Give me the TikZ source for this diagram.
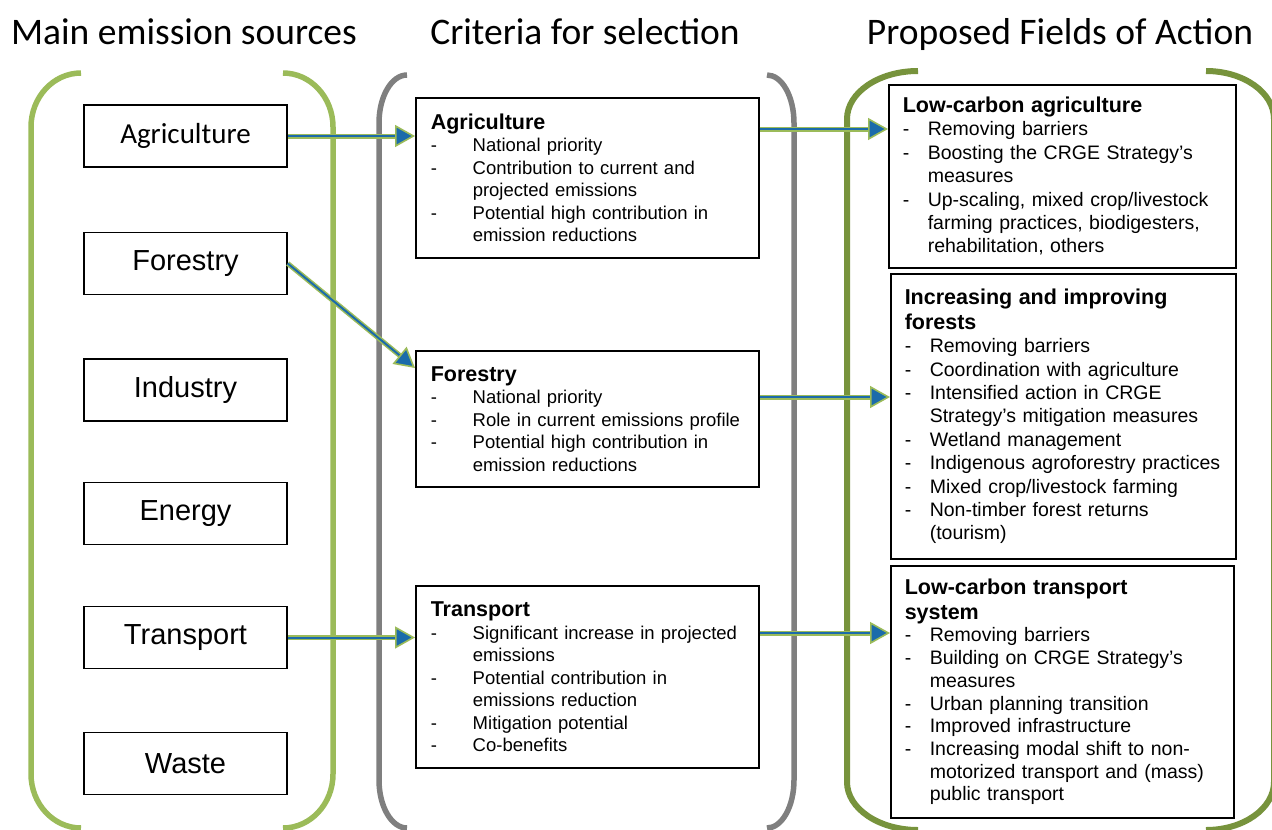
\documentclass[tikz,border=0pt]{standalone}
\usepackage{fontspec}
\setmainfont{Liberation Sans}
\newfontfamily\calfont{Carlito}
\usetikzlibrary{arrows.meta,calc}
\definecolor{srcgreen}{HTML}{9BBB59}
\definecolor{critgray}{HTML}{7F7F7F}
\definecolor{fieldgreen}{HTML}{77933C}
\definecolor{arrowblue}{HTML}{1B6BAA}
\newlength\dashind
\newcommand\ditem[1]{\hangindent=\dashind\hangafter=1\noindent\makebox[\dashind][l]{-}{\let\\\newline #1}\par}
\newcommand\dhead[1]{\noindent{\fontsize{21.5pt}{25pt}\selectfont\bfseries #1\par}}
\tikzset{
 title/.style={anchor=base,font=\calfont\fontsize{37.5pt}{42pt}\selectfont},
 source/.style={draw,line width=1.5pt,minimum width=203pt,minimum height=62pt,inner sep=0pt,font=\fontsize{29pt}{34pt}\selectfont},
 crit/.style={draw,line width=1.5pt,anchor=north west,inner xsep=15pt,inner ysep=0pt,text width=313pt,minimum width=343pt,align=left,font=\fontsize{18.5pt}{22.5pt}\selectfont\setlength\dashind{42pt}},
 field/.style={draw,line width=1.5pt,anchor=north west,inner xsep=14pt,inner ysep=0pt,align=left,font=\fontsize{19.5pt}{23.4pt}\selectfont\setlength\dashind{25pt}},
 bracket/.style={line width=5.5pt},
 link/.style={arrowblue,line width=2pt,-{Triangle[length=20pt,width=22pt,fill=arrowblue,color=srcgreen,line width=1.6pt]},preaction={draw=srcgreen,line width=5pt,-,shorten >=18pt}}
}

\begin{document}
\begin{tikzpicture}[x=1pt,y=-1pt]
\useasboundingbox (0,0) rectangle (1272,830);
% column brackets
\draw[bracket,srcgreen] (81,73) arc[start angle=270,end angle=180,x radius=50,y radius=54] -- (31,774) arc[start angle=180,end angle=90,x radius=50,y radius=54];
\draw[bracket,srcgreen] (283,73) arc[start angle=270,end angle=360,x radius=50,y radius=54] -- (333,774) arc[start angle=0,end angle=90,x radius=50,y radius=54];
\draw[bracket,critgray] (407,75) arc[start angle=270,end angle=180,x radius=28,y radius=48] -- (379,780) arc[start angle=180,end angle=90,x radius=28,y radius=48];
\draw[bracket,critgray] (767,75) arc[start angle=270,end angle=360,x radius=27,y radius=48] -- (794,780) arc[start angle=0,end angle=90,x radius=27,y radius=48];
\draw[bracket,fieldgreen,line width=6pt] (918,71) arc[start angle=270,end angle=180,x radius=71,y radius=48] -- (847,782) arc[start angle=180,end angle=90,x radius=71,y radius=48];
\draw[bracket,fieldgreen,line width=6pt] (1206,71) arc[start angle=270,end angle=360,x radius=68,y radius=48] -- (1274,782) arc[start angle=0,end angle=90,x radius=68,y radius=48];

% titles
\node[title] (tSrc) at (184,44) {Main emission sources};
\node[title] (tCrit) at (585,44) {Criteria for selection};
\node[title] (tField) at (1060,44) {Proposed Fields of Action};

% emission sources
\node[source,font=\calfont\fontsize{29pt}{34pt}\selectfont] (sAg) at (185.5,136) {Agriculture};
\node[source] (sFo) at (185.5,263.5) {Forestry};
\node[source] (sIn) at (185.5,390) {Industry};
\node[source] (sEn) at (185.5,513.5) {Energy};
\node[source] (sTr) at (185.5,637.5) {Transport};
\node[source] (sWa) at (185.5,763.5) {Waste};

% criteria
\node[crit,minimum height=160pt] (cAg) at (415,97) {\dhead{Agriculture}
\ditem{National priority}
\ditem{Contribution to current and\\projected emissions}
\ditem{Potential high contribution in\\emission reductions}};
\node[crit,minimum height=136pt] (cFo) at (415,350) {\dhead{Forestry}
\ditem{National priority}
\ditem{Role in current emissions profile}
\ditem{Potential high contribution in\\emission reductions}};
\node[crit,minimum height=182pt] (cTr) at (415,585) {\dhead{Transport}
\ditem{Significant increase in projected\\emissions}
\ditem{Potential contribution in\\emissions reduction}
\ditem{Mitigation potential}
\ditem{Co-benefits}};

% fields of action
\node[field,text width=319pt,minimum height=183pt] (fAg) at (888,84) {\dhead{Low-carbon agriculture}
\ditem{Removing barriers}
\ditem{Boosting the CRGE Strategy's\\measures}
\ditem{Up-scaling, mixed crop/livestock\\farming practices, biodigesters,\\rehabilitation, others}};
\node[field,text width=317pt,minimum height=285pt] (fFo) at (890,273) {\dhead{Increasing and improving\\forests}
\ditem{Removing barriers}
\ditem{Coordination with agriculture}
\ditem{Intensified action in CRGE\\Strategy's mitigation measures}
\ditem{Wetland management}
\ditem{Indigenous agroforestry practices}
\ditem{Mixed crop/livestock farming}
\ditem{Non-timber forest returns\\(tourism)}};
\node[field,text width=315pt,minimum height=252pt,font=\fontsize{19.5pt}{22.7pt}\selectfont\setlength\dashind{25pt}] (fTr) at (890,565) {\dhead{Low-carbon transport\\system}
\ditem{Removing barriers}
\ditem{Building on CRGE Strategy's\\measures}
\ditem{Urban planning transition}
\ditem{Improved infrastructure}
\ditem{Increasing modal shift to non-\\motorized transport and (mass)\\public transport}};

% connectors
\draw[link] (sAg.east) -- (sAg.east -| cAg.west);
\draw[link] (sFo.east) -- ($(cFo.north west)+(0,18)$);
\draw[link] (sTr.east) -- (sTr.east -| cTr.west);
\coordinate (oAg) at ($(cAg.north east)+(0,32)$);
\coordinate (oFo) at ($(cFo.north east)+(0,47)$);
\coordinate (oTr) at ($(cTr.north east)+(0,48)$);
\draw[link] (oAg) -- (oAg -| fAg.west);
\draw[link] (oFo) -- (oFo -| fFo.west);
\draw[link] (oTr) -- (oTr -| fTr.west);
\end{tikzpicture}
\end{document}
